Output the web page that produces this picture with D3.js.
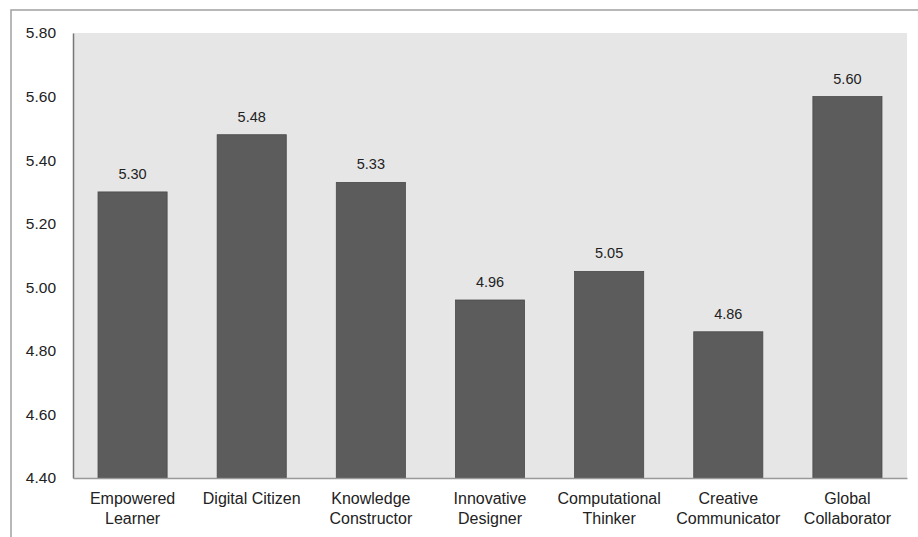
<!DOCTYPE html>
<html lang="en">
<head>
  <meta charset="UTF-8" />
  <title>ISTE Standards Means</title>
  <script src="https://d3js.org/d3.v7.min.js"></script>
  <style>
    body { margin: 0; background: #fff; font-family: "Liberation Sans", Arial, sans-serif; }
    svg text { fill: #222; }
  </style>
</head>
<body>
  <svg width="918" height="537"></svg>

  <script>
    // chart data
    const categories = [
      ["Empowered", "Learner"],
      ["Digital Citizen"],
      ["Knowledge", "Constructor"],
      ["Innovative", "Designer"],
      ["Computational", "Thinker"],
      ["Creative", "Communicator"],
      ["Global", "Collaborator"]
    ];
    const values = [5.30, 5.48, 5.33, 4.96, 5.05, 4.86, 5.60];
    const yTicks = [4.40, 4.60, 4.80, 5.00, 5.20, 5.40, 5.60, 5.80];

    const margin = { top: 33, right: 11, bottom: 59, left: 73 },
          width = 918 - margin.left - margin.right,
          height = 537 - margin.top - margin.bottom;

    const root = d3.select("svg");

    // outer frame (clipped at right/bottom like the source image)
    root.append("rect")
      .attr("x", 11).attr("y", 10)
      .attr("width", 930).attr("height", 560)
      .attr("fill", "none")
      .attr("stroke", "#a0a0a0")
      .attr("stroke-width", 1.5);

    const svg = root.append("g")
      .attr("transform", `translate(${margin.left},${margin.top})`);

    const keys = categories.map(c => c.join(" "));

    const x = d3.scaleBand()
      .domain(keys)
      .range([0, width])
      .paddingInner(0.42)
      .paddingOuter(0.21);

    const y = d3.scaleLinear()
      .domain([4.4, 5.8])
      .range([height, 0]);

    // plot background
    svg.append("rect")
      .attr("width", width)
      .attr("height", height)
      .attr("fill", "#e6e6e6");

    // bars
    svg.selectAll(".bar")
      .data(values)
      .enter().append("rect")
      .attr("class", "bar")
      .attr("x", (d, i) => x(keys[i]))
      .attr("y", d => y(d))
      .attr("width", x.bandwidth())
      .attr("height", d => height - y(d))
      .attr("fill", "#5c5c5c")
      .attr("stroke", "#4a4a4a")
      .attr("stroke-width", 0.8);

    // value labels
    svg.selectAll(".val")
      .data(values)
      .enter().append("text")
      .attr("class", "val")
      .attr("x", (d, i) => x(keys[i]) + x.bandwidth() / 2)
      .attr("y", d => y(d) - 13)
      .attr("text-anchor", "middle")
      .attr("font-size", "14.5px")
      .text(d => d.toFixed(2));

    // y axis
    const yAxis = svg.append("g")
      .call(d3.axisLeft(y).tickValues(yTicks).tickSize(0).tickPadding(17)
        .tickFormat(d3.format(".2f")));
    yAxis.select(".domain").attr("stroke", "#777").attr("stroke-width", 1.5);
    yAxis.selectAll("text")
      .attr("font-size", "15.5px")
      .attr("font-family", "Liberation Sans, Arial, sans-serif")
      .style("fill", "#222");

    // x axis
    const xAxis = svg.append("g")
      .attr("transform", `translate(0,${height})`)
      .call(d3.axisBottom(x).tickSize(0).tickFormat(""));
    xAxis.select(".domain").attr("stroke", "#999").attr("stroke-width", 1.5);

    // multi-line category labels
    const lbl = svg.selectAll(".cat")
      .data(categories)
      .enter().append("text")
      .attr("class", "cat")
      .attr("text-anchor", "middle")
      .attr("font-size", "16px")
      .attr("transform", (d, i) => `translate(${x(keys[i]) + x.bandwidth() / 2},${height + 26})`);
    lbl.selectAll("tspan")
      .data(d => d)
      .enter().append("tspan")
      .attr("x", 0)
      .attr("dy", (d, i) => i === 0 ? 0 : 20)
      .text(d => d);
  </script>
</body>
</html>
